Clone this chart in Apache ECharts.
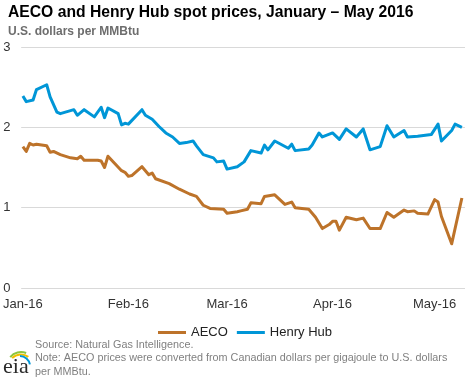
<!DOCTYPE html>
<html>
<head>
<meta charset="utf-8">
<script src="https://cdn.jsdelivr.net/npm/echarts@6/dist/echarts.min.js"></script>
<style>
  html, body { margin: 0; padding: 0; background: #fff; }
  #chart { width: 468px; height: 378px; }
</style>
</head>
<body>
<div id="chart"></div>
<script>
// one value per visible vertex
const hhDates = ['2016-01-01', '2016-01-02', '2016-01-04', '2016-01-05', '2016-01-08', '2016-01-09', '2016-01-11', '2016-01-12',
  '2016-01-16', '2016-01-17', '2016-01-19', '2016-01-22', '2016-01-24', '2016-01-25', '2016-01-26', '2016-01-29',
  '2016-01-30', '2016-01-31', '2016-02-01', '2016-02-05', '2016-02-06', '2016-02-08', '2016-02-10', '2016-02-12',
  '2016-02-14', '2016-02-16', '2016-02-18', '2016-02-20', '2016-02-21', '2016-02-23', '2016-02-26', '2016-02-27',
  '2016-02-29', '2016-03-01', '2016-03-04', '2016-03-06', '2016-03-08', '2016-03-11', '2016-03-12', '2016-03-13',
  '2016-03-15', '2016-03-19', '2016-03-20', '2016-03-21', '2016-03-25', '2016-03-26', '2016-03-28', '2016-03-29',
  '2016-04-01', '2016-04-03', '2016-04-05', '2016-04-08', '2016-04-10', '2016-04-12', '2016-04-15', '2016-04-17',
  '2016-04-19', '2016-04-22', '2016-04-23', '2016-04-26', '2016-04-30', '2016-05-02', '2016-05-03', '2016-05-06',
  '2016-05-07', '2016-05-09'];
const henryHub = [2.39, 2.32, 2.34, 2.47, 2.53, 2.38, 2.19, 2.17,
  2.22, 2.15, 2.22, 2.13, 2.25, 2.12, 2.24, 2.17,
  2.03, 2.05, 2.04, 2.22, 2.15, 2.10, 2.01, 1.93,
  1.88, 1.80, 1.81, 1.83, 1.77, 1.66, 1.62, 1.57,
  1.58, 1.48, 1.51, 1.57, 1.71, 1.68, 1.78, 1.72,
  1.83, 1.74, 1.79, 1.71, 1.73, 1.78, 1.93, 1.88,
  1.93, 1.85, 1.98, 1.88, 1.98, 1.72, 1.76, 2.02,
  1.88, 1.96, 1.88, 1.89, 1.91, 2.04, 1.83, 1.96,
  2.04, 2.00];

const aecoDates = ['2016-01-01', '2016-01-02', '2016-01-03', '2016-01-04', '2016-01-05', '2016-01-08', '2016-01-09', '2016-01-10',
  '2016-01-12', '2016-01-15', '2016-01-17', '2016-01-18', '2016-01-19', '2016-01-23', '2016-01-24', '2016-01-25',
  '2016-01-26', '2016-01-28', '2016-01-30', '2016-01-31', '2016-02-01', '2016-02-02', '2016-02-05', '2016-02-07',
  '2016-02-08', '2016-02-09', '2016-02-13', '2016-02-16', '2016-02-19', '2016-02-21', '2016-02-23', '2016-02-25',
  '2016-02-29', '2016-03-01', '2016-03-04', '2016-03-05', '2016-03-07', '2016-03-08', '2016-03-11', '2016-03-12',
  '2016-03-15', '2016-03-18', '2016-03-20', '2016-03-21', '2016-03-25', '2016-03-27', '2016-03-29', '2016-03-31',
  '2016-04-01', '2016-04-02', '2016-04-03', '2016-04-05', '2016-04-08', '2016-04-10', '2016-04-12', '2016-04-15',
  '2016-04-17', '2016-04-19', '2016-04-22', '2016-04-23', '2016-04-25', '2016-04-26', '2016-04-29', '2016-05-01',
  '2016-05-02', '2016-05-03', '2016-05-06', '2016-05-09'];
const aeco = [1.76, 1.70, 1.80, 1.78, 1.79, 1.77, 1.69, 1.70,
  1.66, 1.62, 1.61, 1.64, 1.59, 1.59, 1.58, 1.50,
  1.64, 1.55, 1.46, 1.44, 1.39, 1.40, 1.51, 1.41,
  1.43, 1.36, 1.30, 1.23, 1.17, 1.14, 1.03, 0.99,
  0.98, 0.93, 0.95, 0.96, 0.98, 1.06, 1.05, 1.14,
  1.16, 1.04, 1.07, 1.00, 0.98, 0.88, 0.74, 0.79,
  0.83, 0.83, 0.72, 0.88, 0.85, 0.87, 0.74, 0.74,
  0.94, 0.88, 0.97, 0.95, 0.96, 0.93, 0.92, 1.10,
  1.07, 0.89, 0.55, 1.12];

const monthTicks = ['2016-01-01', '2016-02-01', '2016-03-01', '2016-04-01', '2016-05-01'];
const monthNames = ['Jan', 'Feb', 'Mar', 'Apr', 'May', 'Jun', 'Jul', 'Aug', 'Sep', 'Oct', 'Nov', 'Dec'];

const toTime = s => {
  const p = s.split('-');
  return new Date(+p[0], +p[1] - 1, +p[2]).getTime();
};
const pairs = (dates, vals) => dates.map((d, i) => [toTime(d), vals[i]]);

const FONT = '"Liberation Sans", Arial, sans-serif';

const chart = echarts.init(document.getElementById('chart'), null, { renderer: 'canvas' });

chart.setOption({
  animation: false,
  color: ['#BD732A', '#0096D7'],
  title: [
    {
      text: 'AECO and Henry Hub spot prices, January \u2013 May 2016',
      left: 3,
      top: 0,
      textStyle: { fontFamily: FONT, fontSize: 15.7, fontWeight: 'bold', color: '#000' }
    },
    {
      text: 'U.S. dollars per MMBtu',
      left: 3,
      top: 21,
      textStyle: { fontFamily: FONT, fontSize: 12, fontWeight: 'bold', color: '#6d6d6d' }
    }
  ],
  grid: {
    left: 20,
    right: 3,
    top: 47,
    bottom: 90,
    containLabel: false
  },
  legend: {
    top: 321,
    left: 153,
    icon: 'rect',
    itemWidth: 28,
    itemHeight: 3,
    itemGap: 9,
    textStyle: { fontFamily: FONT, fontSize: 13, color: '#222' },
    data: ['AECO', 'Henry Hub']
  },
  // dates plotted as plain timestamps so the month labels can sit on exact days
  xAxis: {
    type: 'value',
    min: new Date(2015, 11, 31, 12).getTime(),
    max: new Date(2016, 4, 9, 22).getTime(),
    axisLine: { show: false },
    axisTick: { show: false },
    splitLine: { show: false },
    axisLabel: {
      customValues: monthTicks.map(toTime),
      margin: 10,
      fontFamily: FONT,
      fontSize: 13,
      color: '#333',
      formatter: v => {
        const d = new Date(v);
        return monthNames[d.getMonth()] + '-' + String(d.getFullYear()).slice(2);
      }
    }
  },
  yAxis: {
    type: 'value',
    min: 0,
    max: 3,
    interval: 1,
    axisLine: { show: false },
    axisTick: { show: false },
    splitLine: { lineStyle: { color: '#d9d9d9', width: 1 } },
    axisLabel: {
      align: 'left',
      margin: 18,
      fontFamily: FONT,
      fontSize: 13,
      color: '#333'
    }
  },
  series: [
    {
      name: 'AECO',
      type: 'line',
      data: pairs(aecoDates, aeco),
      showSymbol: false,
      lineStyle: { width: 3, color: '#BD732A', join: 'round' }
    },
    {
      name: 'Henry Hub',
      type: 'line',
      data: pairs(hhDates, henryHub),
      showSymbol: false,
      lineStyle: { width: 3, color: '#0096D7', join: 'round' }
    }
  ],
  graphic: [
    {
      type: 'text',
      left: 35,
      top: 338,
      style: {
        text: 'Source: Natural Gas Intelligence.\nNote: AECO prices were converted from Canadian dollars per gigajoule to U.S. dollars\nper MMBtu.',
        font: '10.8px ' + FONT,
        fill: '#808080',
        lineHeight: 13.5
      }
    },
    // eia logo: swooshes + lettering
    {
      type: 'arc',
      shape: { cx: 21, cy: 366, r: 14, startAngle: Math.PI * 1.22, endAngle: Math.PI * 1.62 },
      style: { stroke: '#8DC63F', lineWidth: 2, fill: null }
    },
    {
      type: 'arc',
      shape: { cx: 21, cy: 367, r: 12.5, startAngle: Math.PI * 1.25, endAngle: Math.PI * 1.7 },
      style: { stroke: '#F2C000', lineWidth: 2, fill: null }
    },
    {
      type: 'arc',
      shape: { cx: 20, cy: 366, r: 10, startAngle: Math.PI * 1.5, endAngle: Math.PI * 1.95 },
      style: { stroke: '#0096D7', lineWidth: 2, fill: null }
    },
    {
      type: 'text',
      left: 3,
      top: 356,
      style: {
        text: 'eia',
        font: '22px "Liberation Serif", "DejaVu Serif", serif',
        fill: '#2b2b2b'
      }
    }
  ]
});
</script>
</body>
</html>
